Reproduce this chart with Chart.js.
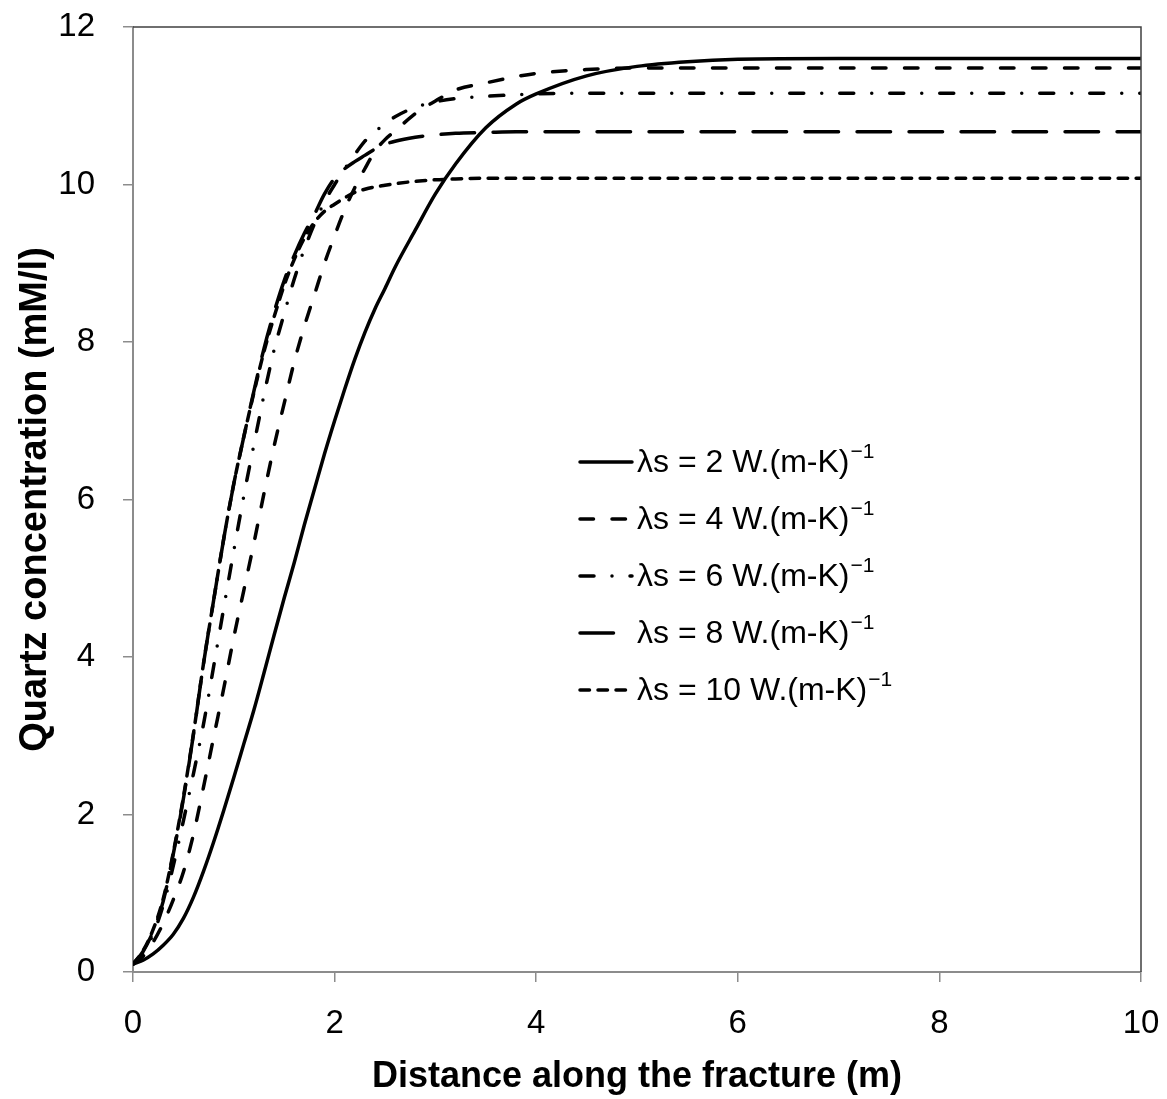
<!DOCTYPE html>
<html>
<head>
<meta charset="utf-8">
<script src="https://cdn.jsdelivr.net/npm/chart.js@4.4.1/dist/chart.umd.min.js"></script>
<style>
  body { margin: 0; background: #fff; }
  canvas { display: block; }
</style>
</head>
<body>
<canvas id="quartz-chart" width="1167" height="1099"></canvas>
<script>
const FONT = "'Liberation Sans Narrow', 'Liberation Sans', Arial, sans-serif";

const distance = [0, 0.1, 0.2, 0.3, 0.4, 0.5, 0.6, 0.7, 0.8, 0.9, 1.0, 1.1, 1.2, 1.3, 1.4, 1.5, 1.6, 1.7, 1.8, 1.9,
  2.0, 2.1, 2.2, 2.3, 2.4, 2.5, 2.6, 2.8, 3.0, 3.2, 3.5, 3.8, 4.0, 4.5, 5.0, 5.5, 6.0, 7.0, 8.0, 10.0];

const lambda2 = [0.1, 0.15, 0.23, 0.34, 0.48, 0.68, 0.95, 1.28, 1.65, 2.05, 2.47, 2.9, 3.33, 3.8, 4.28, 4.75, 5.2, 5.68, 6.13, 6.58,
  7.0, 7.4, 7.78, 8.12, 8.42, 8.68, 8.95, 9.42, 9.88, 10.26, 10.72, 11.02, 11.15, 11.38, 11.5, 11.56, 11.59, 11.6, 11.6, 11.6];
const lambda4 = [0.1, 0.2, 0.38, 0.62, 0.92, 1.27, 1.75, 2.35, 2.98, 3.6, 4.25, 4.85, 5.45, 6.08, 6.68, 7.22, 7.75, 8.2, 8.6, 9.0,
  9.35, 9.68, 9.96, 10.2, 10.42, 10.57, 10.68, 10.9, 11.06, 11.2, 11.29, 11.37, 11.41, 11.46, 11.48, 11.48, 11.48, 11.48, 11.48, 11.48];
const lambda6 = [0.1, 0.24, 0.48, 0.85, 1.35, 1.92, 2.52, 3.15, 3.88, 4.62, 5.35, 6.05, 6.7, 7.33, 7.9, 8.36, 8.8, 9.18, 9.5, 9.78,
  10.0, 10.2, 10.38, 10.55, 10.67, 10.77, 10.86, 10.98, 11.05, 11.09, 11.12, 11.14, 11.15, 11.16, 11.16, 11.16, 11.16, 11.16, 11.16, 11.16];
const lambda8 = [0.1, 0.26, 0.52, 0.9, 1.5, 2.2, 3.02, 3.92, 4.72, 5.5, 6.2, 6.8, 7.38, 7.92, 8.38, 8.78, 9.1, 9.38, 9.62, 9.88,
  10.08, 10.2, 10.29, 10.37, 10.45, 10.51, 10.55, 10.6, 10.63, 10.65, 10.66, 10.67, 10.67, 10.67, 10.67, 10.67, 10.67, 10.67, 10.67, 10.67];
const lambda10 = [0.1, 0.27, 0.54, 0.93, 1.52, 2.22, 3.03, 3.92, 4.72, 5.5, 6.2, 6.8, 7.36, 7.88, 8.32, 8.72, 9.05, 9.32, 9.52, 9.66,
  9.75, 9.83, 9.9, 9.94, 9.97, 9.99, 10.01, 10.04, 10.06, 10.07, 10.08, 10.08, 10.08, 10.08, 10.08, 10.08, 10.08, 10.08, 10.08, 10.08];

const seriesLabels = ['2', '4', '6', '8', '10'];
const xTicks = [0, 2, 4, 6, 8, 10];
const yTicks = [0, 2, 4, 6, 8, 10, 12];

const dashes = [[], [13.5, 18.5], [14, 18, 0, 18], [33.5, 18.5], [9.5, 8.5]];
const seriesValues = [lambda2, lambda4, lambda6, lambda8, lambda10];

const datasets = seriesValues.map((vals, i) => ({
  label: 'λs = ' + seriesLabels[i] + ' W.(m-K)',
  data: distance.map((x, j) => ({ x: x, y: vals[j] })),
  borderColor: '#000',
  borderWidth: 3.5,
  borderDash: dashes[i],
  borderCapStyle: 'round',
  pointRadius: 0,
  cubicInterpolationMode: 'monotone',
  fill: false
}));

// legend drawn inside the plot, plus top/right frame lines
const extras = {
  id: 'extras',
  afterDatasetsDraw(chart) {
    const ctx = chart.ctx;
    const a = chart.chartArea;
    ctx.save();
    ctx.strokeStyle = '#404040';
    ctx.lineWidth = 1.5;
    ctx.beginPath();
    ctx.moveTo(a.left, a.top);
    ctx.lineTo(a.right, a.top);
    ctx.lineTo(a.right, a.bottom);
    ctx.stroke();

    const rows = [462, 519, 576, 633, 690];
    chart.data.datasets.forEach((ds, i) => {
      const y = rows[i];
      ctx.strokeStyle = '#000';
      ctx.lineWidth = 3.5;
      ctx.lineCap = 'round';
      ctx.setLineDash(ds.borderDash);
      ctx.beginPath();
      ctx.moveTo(580, y);
      ctx.lineTo(632, y);
      ctx.stroke();
      ctx.setLineDash([]);
      ctx.fillStyle = '#000';
      ctx.textBaseline = 'middle';
      ctx.textAlign = 'left';
      ctx.font = '32px ' + FONT;
      ctx.fillText(ds.label, 637, y + 1);
      const w = ctx.measureText(ds.label).width;
      ctx.font = '21px ' + FONT;
      ctx.fillText('\u2212' + '1', 637 + w + 1, y - 10);
    });
    ctx.restore();
  }
};

const ctx = document.getElementById('quartz-chart').getContext('2d');
const quartzChart = new Chart(ctx, {
  type: 'line',
  data: { datasets: datasets },
  plugins: [extras],
  options: {
    responsive: false,
    animation: false,
    layout: { padding: { top: 27, right: 26, left: 0, bottom: 0 } },
    plugins: { legend: { display: false }, tooltip: { enabled: false } },
    scales: {
      x: {
        type: 'linear',
        min: 0,
        max: 10,
        afterBuildTicks: s => { s.ticks = xTicks.map(v => ({ value: v })); },
        afterFit: s => { s.height = 127; s.paddingLeft = 0; s.paddingRight = 0; },
        grid: { drawOnChartArea: false, tickLength: 10, color: '#8c8c8c', lineWidth: 1.5 },
        border: { color: '#8c8c8c', width: 2 },
        ticks: { color: '#000', padding: 22, font: { family: FONT, size: 33 } },
        title: {
          display: true,
          text: 'Distance along the fracture (m)',
          color: '#000',
          font: { family: FONT, size: 36, weight: 'bold' },
          padding: { top: 0, bottom: 0 }
        }
      },
      y: {
        min: 0,
        max: 12,
        afterBuildTicks: s => { s.ticks = yTicks.map(v => ({ value: v })); },
        afterFit: s => { s.width = 133; s.paddingTop = 0; s.paddingBottom = 0; },
        grid: { drawOnChartArea: false, tickLength: 10, color: '#8c8c8c', lineWidth: 1.5 },
        border: { color: '#8c8c8c', width: 2 },
        ticks: { color: '#000', padding: 28, font: { family: FONT, size: 33 } },
        title: {
          display: true,
          text: 'Quartz concentration (mM/l)',
          color: '#000',
          font: { family: FONT, size: 38, weight: 'bold' },
          padding: { top: 13, bottom: 0 }
        }
      }
    }
  }
});
</script>
</body>
</html>
